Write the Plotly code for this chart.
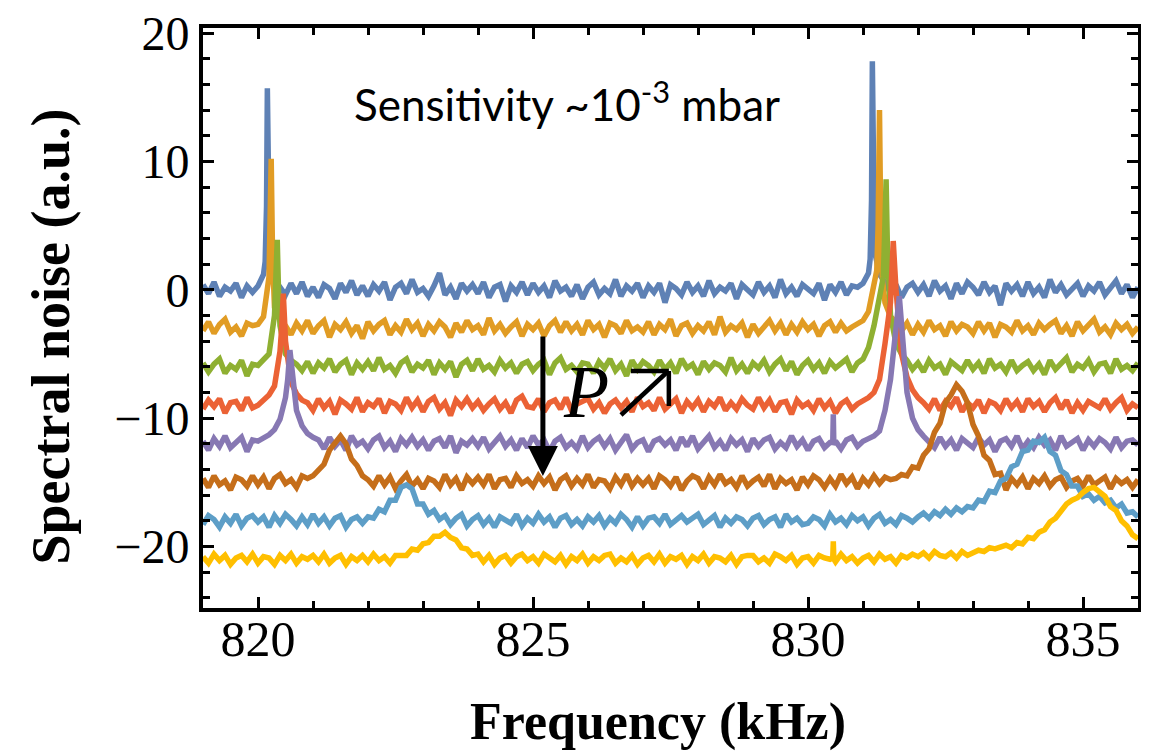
import plotly.graph_objects as go

# ---- sampling grid (kHz) ----
FREQ_START = 819.0
FREQ_STEP = 0.1
N_POINTS = 171
FREQ_KHZ = [round(FREQ_START + FREQ_STEP * i, 2) for i in range(N_POINTS)]

# vertical offsets of the stacked spectra (a.u.)
OFFSETS = [0, -3, -6, -9, -12, -15, -18, -21]
COLORS = ["#5E81B5", "#E19C24", "#8FB032", "#EB6235",
          "#8778B3", "#C56E1A", "#5D9EC7", "#FFBF00"]

# spectra (relative to their offset), one value per grid point
SPEC_1 = [0.4, -0.3, 0.6, -0.5, 0.2, -0.1, 0.5, -0.6, 0.3, -0.2,
          0.3, 1.2, 3.3, 0.8, 0.2, -0.4, 0.5, -0.3, 0.6, -0.5,
          0.2, -0.6, 0.4, 0.1, -0.7, 0.5, -0.2, 0.7, -0.4, 0.3,
          -0.5, 0.4, -0.1, 0.6, -0.8, 0.2, 0.5, -0.3, 0.8, -0.2,
          0.1, -0.5, 0.3, 1.3, -0.4, 0.2, -0.7, 0.5, -0.1, 0.4,
          -0.3, 0.6, -0.6, 0.2, 0.4, -0.9, 0.3, -0.2, 0.6, -0.4,
          0.5, -0.2, 0.3, -0.6, 0.7, -0.1, 0.2, -0.5, 0.4, -0.7,
          0.2, 0.6, -0.4, 0.1, -0.3, 0.8, -0.5, 0.3, -0.1, 0.5,
          -0.6, 0.3, -0.2, 0.5, -1.0, 0.4, 0.1, -0.4, 0.6, -0.2,
          0.3, -0.5, 0.7, -0.3, 0.2, -0.1, 0.5, -0.7, 0.4, 0.0,
          -0.4, 0.6, -0.2, 0.3, -0.6, 0.8, -0.3, 0.2, -0.5, 0.4,
          0.1, -0.3, 0.5, -0.8, 0.4, -0.2, 0.6, -0.4, 0.3, 0.2,
          0.5, 1.3, 3.6, 1.2, 0.6, -0.3, 0.4, -0.6, 0.2, 0.5,
          -0.2, 0.4, -0.5, 0.7, -0.1, 0.3, -0.7, 0.5, -0.3, 0.6,
          0.2, -0.4, 0.6, -0.2, 0.3, -1.2, 0.5, -0.1, 0.4, -0.5,
          0.6, -0.3, 0.2, -0.6, 0.8, -0.2, 0.4, -0.4, 0.1, 0.5,
          -0.5, 0.3, -0.1, 0.6, -0.4, 0.2, 0.7, -0.3, 0.4, -0.6,
          0.2]
SPEC_2 = [-0.2, 0.5, -0.4, 0.3, 0.7, -0.3, 0.1, -0.6, 0.4, 0.2,
          0.3, 0.9, 4.0, 1.6, 0.6, 0.2, -0.5, 0.4, -0.2, 0.6,
          -0.4, 0.2, 0.6, -0.7, 0.3, -0.1, 0.5, -0.4, 0.2, -0.8,
          0.5, -0.2, 0.3, 0.6, -0.5, 0.2, -0.3, 0.7, -0.1, 0.4,
          -0.6, 0.3, -0.2, 0.5, 0.1, -0.7, 0.4, -0.3, 0.6, -0.1,
          0.2, -0.5, 0.8, -0.2, 0.3, -0.4, 0.1, 0.5, -0.6, 0.3,
          -0.1, 0.4, -0.6, 0.2, 0.6, -0.3, 0.5, -0.2, 0.3, -0.5,
          0.6, -0.1, 0.3, -0.7, 0.4, 0.2, -0.4, 0.6, -0.2, 0.1,
          -0.3, 0.5, -0.5, 0.3, -0.1, 0.7, -0.6, 0.2, 0.4, -0.4,
          0.2, -0.2, 0.5, -0.5, 0.9, -0.3, 0.2, -0.1, 0.4, -0.7,
          0.3, -0.4, 0.1, 0.6, -0.2, 0.4, -0.5, 0.3, -0.3, 0.5,
          -0.1, 0.3, -0.6, 0.2, 0.5, -0.3, 0.4, -0.2, 0.1, 0.4,
          0.6, 1.3, 3.5, 17.0, 2.0, 0.9, 0.5, -0.2, 0.4, -0.5,
          0.3, -0.3, 0.6, -0.1, 0.2, -0.6, 0.5, -0.2, 0.3, 0.1,
          -0.4, 0.5, -0.2, 0.4, -0.7, 0.3, 0.1, -0.3, 0.6, -0.2,
          0.2, -0.5, 0.4, -0.1, 0.3, 0.6, -0.4, 0.2, -0.6, 0.5,
          -0.2, 0.3, 0.7, -0.3, 0.1, -0.5, 0.4, -0.1, 0.3, -0.4,
          0.1]
SPEC_3 = [0.3, -0.4, 0.2, 0.6, -0.5, 0.1, -0.2, 0.5, -0.7, 0.2,
          0.1, 0.5, 1.0, 4.0, 3.2, 1.0, 0.5, 0.2, -0.3, 0.4,
          -0.5, 0.3, -0.1, 0.6, -0.4, 0.2, 0.5, -0.6, 0.3, -0.2,
          0.4, -0.3, 0.7, -0.2, 0.1, -0.5, 0.3, 0.6, -0.4, 0.2,
          -0.1, 0.5, -0.6, 0.3, -0.2, 0.4, -0.8, 0.2, 0.5, -0.3,
          0.6, -0.2, 0.1, -0.4, 0.5, -0.1, 0.3, -0.5, 0.2, 0.4,
          -0.3, 0.2, 0.5, -0.6, 0.3, 0.7, -0.2, 0.1, -0.4, 0.3,
          0.2, -0.5, 0.4, -0.1, 0.6, -0.3, 0.2, -0.7, 0.5, -0.2,
          0.4, 0.1, -0.4, 0.5, -0.2, 0.3, -0.5, 0.6, -0.1, 0.2,
          -0.6, 0.4, -0.2, 0.3, 0.1, -0.4, 0.7, -0.3, 0.2, -0.5,
          0.3, -0.1, 0.5, -0.4, 0.2, 0.6, -0.3, 0.4, -0.6, 0.1,
          0.5, -0.2, 0.3, -0.5, 0.4, -0.1, 0.2, 0.6, -0.4, 0.3,
          0.6, 1.5, 3.2, 5.5, 11.0, 4.0, 1.8, 1.0, 0.5, -0.2,
          0.3, -0.4, 0.5, -0.1, 0.2, -0.6, 0.4, 0.1, -0.3, 0.5,
          -0.2, 0.3, -0.5, 0.6, -0.1, 0.2, -0.4, 0.5, -0.3, 0.1,
          0.4, -0.3, 0.2, -0.6, 0.5, -0.2, 0.3, 0.7, -0.4, 0.2,
          -0.1, 0.5, -0.4, 0.2, 0.3, -0.5, 0.6, -0.2, 0.1, -0.3,
          0.3]
SPEC_4 = [-0.3, 0.4, -0.1, 0.5, -0.6, 0.2, 0.3, -0.4, 0.6, -0.2,
          0.0, 0.4, 0.8, 1.5, 4.2, 5.0, 1.8, 0.9, 0.4, 0.2,
          -0.4, 0.5, -0.2, 0.3, -0.7, 0.4, 0.1, -0.3, 0.6, -0.5,
          0.2, -0.1, 0.5, -0.6, 0.3, 0.1, -0.4, 0.6, -0.2, 0.4,
          -0.5, 0.3, 0.6, -0.3, 0.2, -0.8, 0.4, -0.1, 0.5, -0.2,
          0.3, -0.4, 0.1, 0.5, -0.3, 0.2, -0.6, 0.4, 0.7, -0.1,
          -0.2, 0.5, -0.5, 0.2, 0.4, -0.3, 0.6, -0.4, 0.1, 0.3,
          0.5, -0.3, 0.2, -0.6, 0.1, 0.4, -0.2, 0.3, -0.5, 0.6,
          -0.1, 0.2, -0.4, 0.6, -0.3, 0.1, 0.5, -0.6, 0.3, -0.2,
          0.4, -0.5, 0.3, -0.1, 0.6, -0.4, 0.2, -0.3, 0.5, 0.0,
          -0.3, 0.6, -0.2, 0.4, -0.5, 0.2, 0.3, -0.7, 0.4, -0.1,
          0.2, -0.4, 0.5, -0.2, 0.3, -0.6, 0.1, 0.4, -0.3, 0.1,
          0.3, 0.6, 1.0, 2.0, 4.8, 8.0, 9.0, 4.0, 2.2, 1.2,
          0.6, 0.2, -0.3, 0.5, -0.4, 0.3, -0.1, 0.6, -0.5, 0.2,
          -0.2, 0.4, -0.6, 0.3, 0.1, -0.4, 0.5, -0.2, 0.3, -0.5,
          0.5, -0.1, 0.3, -0.5, 0.2, 0.6, -0.3, 0.4, -0.6, 0.2,
          -0.4, 0.3, 0.1, -0.2, 0.5, -0.3, 0.2, 0.6, -0.4, 0.1,
          -0.2]
SPEC_5 = [0.2, -0.5, 0.4, -0.2, 0.6, -0.3, 0.1, 0.5, -0.6, 0.3,
          0.2, 0.4, 0.7, 1.1, 1.9, 3.6, 6.5, 2.6, 1.4, 0.8,
          0.5, 0.3, -0.4, 0.5, -0.2, 0.3, -0.5, 0.6, -0.1, 0.2,
          -0.4, 0.3, 0.6, -0.3, 0.2, -0.6, 0.4, -0.1, 0.5, -0.2,
          0.3, -0.5, 0.2, 0.4, -0.3, 0.6, -0.7, 0.2, -0.1, 0.4,
          -0.2, 0.5, -0.4, 0.1, 0.6, -0.2, 0.3, -0.5, 0.4, -0.3,
          0.6, -0.1, 0.3, -0.6, 0.2, 0.5, -0.3, 0.1, -0.4, 0.6,
          -0.3, 0.2, 0.5, -0.2, 0.4, -0.5, 0.2, 0.7, -0.4, 0.1,
          0.3, -0.6, 0.2, 0.4, -0.1, 0.3, -0.5, 0.5, -0.2, 0.6,
          -0.4, 0.1, 0.6, -0.3, 0.2, -0.5, 0.4, -0.1, 0.3, -0.6,
          0.4, -0.2, 0.3, 0.5, -0.4, 0.1, -0.3, 0.6, -0.2, 0.3,
          -0.5, 0.2, 0.4, -0.3, 0.1, 0.2, -0.4, 0.3, 0.5, -0.2,
          0.2, 0.4, 0.6, 1.0, 2.6, 5.0, 8.5, 9.0, 4.0, 2.0,
          1.1, 0.6, 0.2, -0.3, 0.5, -0.2, 0.3, -0.5, 0.4, 0.1,
          -0.3, 0.5, -0.1, 0.3, -0.6, 0.2, 0.4, -0.2, 0.6, -0.4,
          0.2, -0.3, 0.5, -0.1, 0.3, -0.5, 0.6, -0.2, 0.1, 0.4,
          -0.5, 0.3, -0.2, 0.4, 0.1, -0.4, 0.5, -0.3, 0.2, 0.3,
          -0.1]
SPEC_6 = [0.3, -0.4, 0.5, -0.2, 0.1, -0.6, 0.4, 0.2, -0.3, 0.5,
          -0.2, 0.4, -0.5, 0.3, 0.6, -0.1, 0.2, -0.4, 0.5, 0.3,
          0.5, 0.9, 1.4, 2.5, 3.0, 3.6, 3.0, 1.8, 1.3, 0.5,
          0.2, -0.3, 0.5, -0.2, 0.4, -0.5, 0.1, 0.6, -0.3, 0.2,
          -0.5, 0.3, 0.1, -0.4, 0.6, -0.2, 0.3, -0.6, 0.4, -0.1,
          0.4, -0.2, 0.6, -0.5, 0.2, 0.3, -0.4, 0.5, -0.1, 0.2,
          -0.3, 0.5, -0.1, 0.4, -0.6, 0.2, 0.5, -0.3, 0.3, -0.2,
          0.6, -0.4, 0.2, 0.1, -0.5, 0.4, -0.2, 0.6, -0.3, 0.3,
          -0.2, 0.3, -0.5, 0.5, 0.2, -0.3, 0.4, -0.6, 0.1, 0.5,
          0.3, -0.5, 0.4, -0.2, 0.6, -0.1, 0.2, -0.4, 0.5, -0.3,
          0.1, 0.4, -0.3, 0.6, -0.5, 0.3, -0.1, 0.2, -0.6, 0.4,
          -0.2, 0.5, 0.2, -0.4, 0.3, -0.3, 0.6, -0.1, 0.4, -0.5,
          0.3, -0.2, 0.5, -0.1, 0.4, 0.2, 0.3, 0.6, 0.5, 1.2,
          1.1, 2.1, 2.6, 3.9, 4.6, 6.2, 6.8, 7.6, 7.1, 6.2,
          4.5, 3.6, 2.1, 1.7, 0.6, 0.7, -0.6, 0.3, -0.2, 0.4,
          -0.5, 0.3, -0.1, 0.5, -0.3, 0.2, 0.4, -0.4, 0.1, 0.3,
          -0.3, 0.5, -0.2, 0.1, 0.4, -0.5, 0.3, -0.1, 0.2, -0.4,
          0.2]
SPEC_7 = [-0.3, 0.4, 0.1, -0.5, 0.3, -0.2, 0.5, -0.4, 0.2, 0.4,
          -0.1, 0.3, -0.5, 0.4, -0.2, 0.5, 0.1, -0.4, 0.3, -0.3,
          0.5, -0.2, 0.3, -0.4, 0.2, 0.4, -0.5, 0.1, 0.3, -0.2,
          0.3, 0.2, 0.9, 0.7, 1.6, 1.6, 2.6, 2.8, 2.5, 1.3,
          1.3, 0.5, 0.8, 0.1, 0.4, -0.3, 0.2, 0.5, -0.4, 0.1,
          0.4, -0.3, 0.2, -0.5, 0.3, 0.1, -0.2, 0.5, -0.4, 0.2,
          -0.2, 0.5, -0.1, 0.3, -0.5, 0.2, 0.4, -0.3, 0.1, -0.4,
          0.3, -0.1, 0.4, -0.4, 0.2, -0.2, 0.5, 0.1, -0.5, 0.3,
          -0.4, 0.2, 0.3, -0.2, 0.5, -0.3, 0.1, 0.4, -0.1, 0.2,
          0.5, -0.3, 0.1, 0.4, -0.5, 0.2, -0.2, 0.3, 0.1, -0.4,
          0.2, 0.4, -0.3, 0.1, 0.3, -0.5, 0.5, -0.1, 0.2, -0.3,
          -0.2, 0.3, 0.1, -0.4, 0.5, -0.1, 0.2, -0.3, 0.4, 0.0,
          0.3, -0.4, 0.2, 0.5, -0.2, 0.1, -0.3, 0.4, 0.2, -0.1,
          0.3, 0.6, 0.2, 0.7, 0.4, 0.9, 0.5, 1.0, 0.7, 1.1,
          1.0, 1.6, 1.5, 2.3, 2.2, 3.1, 3.3, 4.2, 4.4, 5.4,
          5.5, 6.2, 6.1, 6.5, 5.4, 5.1, 3.9, 3.6, 2.7, 2.7,
          1.9, 2.1, 1.6, 1.9, 1.4, 1.6, 1.0, 1.3, 0.6, 0.7,
          0.3]
SPEC_8 = [0.2, -0.3, 0.4, -0.1, 0.3, -0.4, 0.1, 0.3, -0.2, 0.4,
          -0.3, 0.2, 0.1, -0.4, 0.3, -0.1, 0.4, -0.3, 0.2, 0.0,
          0.3, -0.2, 0.4, -0.3, 0.1, 0.3, -0.4, 0.2, -0.1, 0.3,
          -0.2, 0.4, -0.1, 0.2, -0.3, 0.3, 0.3, 0.3, 0.8, 0.7,
          1.2, 1.3, 1.8, 1.8, 2.1, 1.7, 1.5, 0.9, 0.8, 0.3,
          0.4, -0.2, 0.3, -0.4, 0.1, 0.3, -0.3, 0.2, 0.4, -0.1,
          0.2, -0.3, 0.4, 0.1, -0.2, 0.3, -0.4, 0.2, -0.1, 0.4,
          -0.3, 0.2, -0.1, 0.3, 0.4, -0.3, 0.1, -0.2, 0.3, -0.4,
          0.1, 0.3, -0.2, 0.4, -0.3, 0.2, 0.0, 0.3, -0.4, 0.2,
          -0.1, 0.4, -0.3, 0.2, 0.1, -0.2, 0.3, -0.4, 0.2, 0.3,
          0.3, -0.2, 0.1, -0.3, 0.4, 0.2, -0.1, 0.3, -0.4, 0.1,
          0.2, -0.3, 0.3, 0.1, 0.0, -0.2, 0.4, -0.1, 0.2, -0.3,
          0.1, 0.3, -0.2, 0.4, 0.0, 0.2, -0.3, 0.3, 0.1, 0.4,
          0.2, 0.5, 0.1, 0.6, 0.3, 0.2, 0.5, 0.1, 0.6, 0.3,
          0.5, 0.7, 0.6, 0.9, 0.8, 1.0, 1.1, 0.9, 1.3, 1.2,
          1.7, 1.6, 2.1, 2.3, 2.9, 3.2, 3.8, 4.3, 4.6, 4.8,
          5.2, 5.5, 5.6, 5.2, 4.9, 4.1, 3.8, 3.0, 2.6, 1.9,
          1.6]

# extra samples around the narrow resonances / glitches (kHz, a.u.)
EXTRA_X_1 = [820.13, 820.155, 820.17, 820.185, 820.21, 831.13, 831.155, 831.17, 831.185, 831.21]
EXTRA_Y_1 = [2.2, 6.5, 15.7, 6.0, 2.8, 2.4, 7.0, 17.8, 6.5, 3.0]
EXTRA_X_2 = [820.215, 820.24, 820.265, 831.25, 831.275, 831.325, 831.35]
EXTRA_Y_2 = [6.5, 13.2, 5.5, 4.5, 8.0, 7.0, 4.0]
EXTRA_X_3 = [820.325, 820.35, 820.375, 831.37, 831.395, 831.42, 831.445, 831.47]
EXTRA_Y_3 = [6.0, 9.9, 5.5, 7.0, 10.5, 14.6, 9.0, 6.0]
EXTRA_X_4 = [820.43, 820.46, 820.49, 831.52, 831.55, 831.58]
EXTRA_Y_4 = [6.0, 8.7, 6.0, 10.0, 12.8, 10.5]
EXTRA_X_5 = [820.54, 820.58, 820.62, 830.45, 830.46, 830.47, 831.62, 831.66, 831.70]
EXTRA_Y_5 = [5.0, 7.3, 5.0, 0.1, 2.3, -0.1, 9.8, 11.5, 9.5]
EXTRA_X_6 = []
EXTRA_Y_6 = []
EXTRA_X_7 = []
EXTRA_Y_7 = []
EXTRA_X_8 = [830.45, 830.46, 830.47]
EXTRA_Y_8 = [0.1, 1.4, 0.0]

SPECTRA = [SPEC_1, SPEC_2, SPEC_3, SPEC_4, SPEC_5, SPEC_6, SPEC_7, SPEC_8]
EXTRAS_X = [EXTRA_X_1, EXTRA_X_2, EXTRA_X_3, EXTRA_X_4, EXTRA_X_5, EXTRA_X_6, EXTRA_X_7, EXTRA_X_8]
EXTRAS_Y = [EXTRA_Y_1, EXTRA_Y_2, EXTRA_Y_3, EXTRA_Y_4, EXTRA_Y_5, EXTRA_Y_6, EXTRA_Y_7, EXTRA_Y_8]

X_RANGE = [819, 836]
Y_RANGE = [-24.8, 20.4]
X_TICKS = [820, 825, 830, 835]
Y_TICKS = [-20, -10, 0, 10, 20]

fig = go.Figure()
for spec, ex, ey, off, col in zip(SPECTRA, EXTRAS_X, EXTRAS_Y, OFFSETS, COLORS):
    assert len(spec) == N_POINTS, len(spec)
    pts = dict(zip(FREQ_KHZ, spec))
    for xv, yv in zip(ex, ey):
        pts[round(xv, 3)] = yv
    xs = sorted(pts)
    ys = [pts[k] + off for k in xs]
    fig.add_trace(go.Scatter(x=xs, y=ys, mode="lines",
                             line=dict(color=col, width=5.5),
                             showlegend=False, hoverinfo="skip"))

axis_common = dict(showgrid=False, zeroline=False, showline=True, automargin=False,
                   linecolor="black", linewidth=4, mirror="ticks",
                   ticks="inside", ticklen=11, tickwidth=3, tickcolor="black",
                   ticklabeloverflow="allow")

fig.update_xaxes(range=X_RANGE, tickvals=X_TICKS, ticklabelstandoff=-16,
                 tickfont=dict(family="Liberation Serif", size=50, color="black"),
                 minor=dict(ticks="inside", dtick=1, tick0=819, ticklen=7,
                            tickwidth=3, tickcolor="black"),
                 **axis_common)
fig.update_yaxes(range=Y_RANGE, tickvals=Y_TICKS, ticklabelstandoff=0,
                 tickfont=dict(family="Liberation Serif", size=48, color="black"),
                 minor=dict(ticks="inside", dtick=2, tick0=0, ticklen=7,
                            tickwidth=3, tickcolor="black"),
                 **axis_common)

annotations = [
    dict(text="<b>Frequency (kHz)</b>", xref="paper", yref="paper",
         x=0.4866, y=-0.197, xanchor="center", yanchor="middle", showarrow=False,
         font=dict(family="Liberation Serif", size=52, color="black")),
    dict(text="<b>Spectral noise (a.u.)</b>", xref="paper", yref="paper",
         x=-0.1626, y=0.468, xanchor="center", yanchor="middle", showarrow=False,
         textangle=-90,
         font=dict(family="Liberation Serif", size=54, color="black")),
    dict(text="Sensitivity ~10<sup>-3</sup> mbar", xref="paper", yref="paper",
         x=0.3888, y=0.874, xanchor="center", yanchor="middle", showarrow=False,
         font=dict(family="Lato", size=44, color="black")),
    dict(text="<i>P</i>", xref="paper", yref="paper",
         x=0.410, y=0.372, xanchor="center", yanchor="middle", showarrow=False,
         font=dict(family="Liberation Serif", size=74, color="black")),
    dict(text="", x=825.18, y=-14.52, ax=825.18, ay=-3.53,
         xref="x", yref="y", axref="x", ayref="y",
         showarrow=True, arrowhead=2, arrowwidth=5, arrowsize=1.2,
         arrowcolor="black"),
]

shapes = [
    dict(type="line", xref="x", yref="y", x0=826.60, y0=-9.76, x1=827.46, y1=-6.33,
         line=dict(color="black", width=4.5)),
    dict(type="line", xref="x", yref="y", x0=826.78, y0=-6.33, x1=827.47, y1=-6.33,
         line=dict(color="black", width=4.5)),
    dict(type="line", xref="x", yref="y", x0=827.47, y0=-6.33, x1=827.47, y1=-9.06,
         line=dict(color="black", width=4.5)),
]

# the page offsets the figure by a few pixels; margins compensate for it
fig.update_layout(width=1149, height=752,
                  margin=dict(l=195, r=19, t=20, b=152),
                  paper_bgcolor="white", plot_bgcolor="white",
                  annotations=annotations, shapes=shapes)

fig.write_html("out.html")
